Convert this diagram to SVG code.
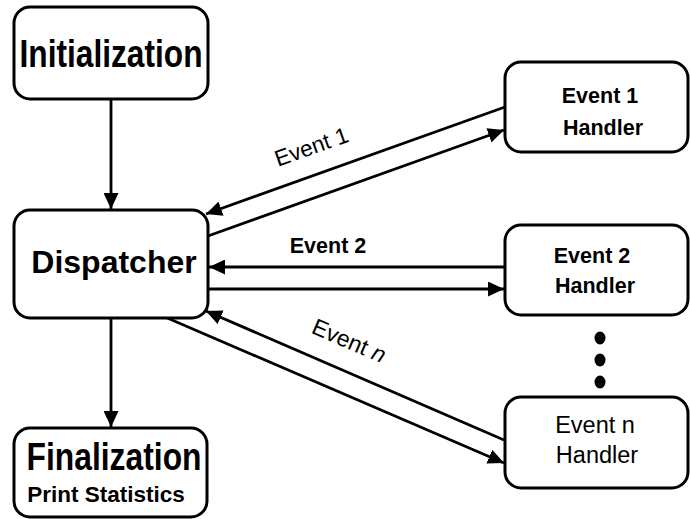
<svg xmlns="http://www.w3.org/2000/svg" width="690" height="519" viewBox="0 0 690 519">
<style>
.box{fill:#fff;stroke:#000;stroke-width:3}
.ln{stroke:#000;stroke-width:2.8;fill:none;marker-end:url(#ah)}
.t{font-family:"Liberation Sans",Arial,sans-serif;fill:#000;text-anchor:middle}
.b{font-weight:bold}
</style>
<defs>
<marker id="ah" markerUnits="userSpaceOnUse" markerWidth="17" markerHeight="15" refX="16" refY="7.5" orient="auto">
<path d="M0,0 L16,7.5 L0,15 z" fill="#000"/>
</marker>
</defs>
<rect width="690" height="519" fill="#fff"/>
<g id="connectors">
<line class="ln" x1="111" y1="99" x2="111" y2="209"/>
<line class="ln" x1="111" y1="318" x2="111" y2="427"/>
<line class="ln" x1="505" y1="107" x2="206" y2="214"/>
<line class="ln" x1="208" y1="236" x2="504" y2="130"/>
<line class="ln" x1="505" y1="267" x2="209" y2="267"/>
<line class="ln" x1="208" y1="289" x2="504" y2="289"/>
<line class="ln" x1="504" y1="440" x2="206" y2="311"/>
<line class="ln" x1="165" y1="317" x2="504" y2="463"/>
<text class="t" font-size="22.5" transform="translate(314,154) rotate(-19.6)">Event 1</text>
<text class="t b" font-size="21.5" x="328" y="253">Event 2</text>
<text class="t" font-size="23" transform="translate(346,348) rotate(23.3)">Event <tspan font-style="italic">n</tspan></text>
</g>
<g id="initialization">
<rect class="box" x="14" y="7" width="194" height="92" rx="16"/>
<text class="t b" font-size="39" x="111" y="67" textLength="183" lengthAdjust="spacingAndGlyphs">Initialization</text>
</g>
<g id="dispatcher">
<rect class="box" x="14" y="210" width="194" height="108" rx="16"/>
<text class="t b" font-size="32" x="114" y="273">Dispatcher</text>
</g>
<g id="finalization">
<rect class="box" x="14" y="428" width="193" height="89" rx="16"/>
<text class="t b" font-size="38" x="114" y="470" textLength="175" lengthAdjust="spacingAndGlyphs">Finalization</text>
<text class="t b" font-size="22.5" x="106" y="502">Print Statistics</text>
</g>
<g id="handler1">
<rect class="box" x="505" y="62" width="183" height="90" rx="16"/>
<text class="t b" font-size="21.5" x="600" y="103">Event 1</text>
<text class="t b" font-size="21.5" x="603" y="135">Handler</text>
</g>
<g id="handler2">
<rect class="box" x="505" y="225" width="183" height="90" rx="16"/>
<text class="t b" font-size="21.5" x="592" y="263">Event 2</text>
<text class="t b" font-size="21.5" x="595" y="293">Handler</text>
</g>
<g id="dots">
<ellipse cx="600" cy="338" rx="5.5" ry="6.5"/>
<ellipse cx="600" cy="360" rx="5.5" ry="6.5"/>
<ellipse cx="600" cy="382" rx="5.5" ry="6.5"/>
</g>
<g id="handlern">
<rect class="box" x="505" y="397" width="183" height="91" rx="16"/>
<text class="t" font-size="23.5" x="595" y="433">Event n</text>
<text class="t" font-size="23.5" x="597" y="463">Handler</text>
</g>
</svg>
